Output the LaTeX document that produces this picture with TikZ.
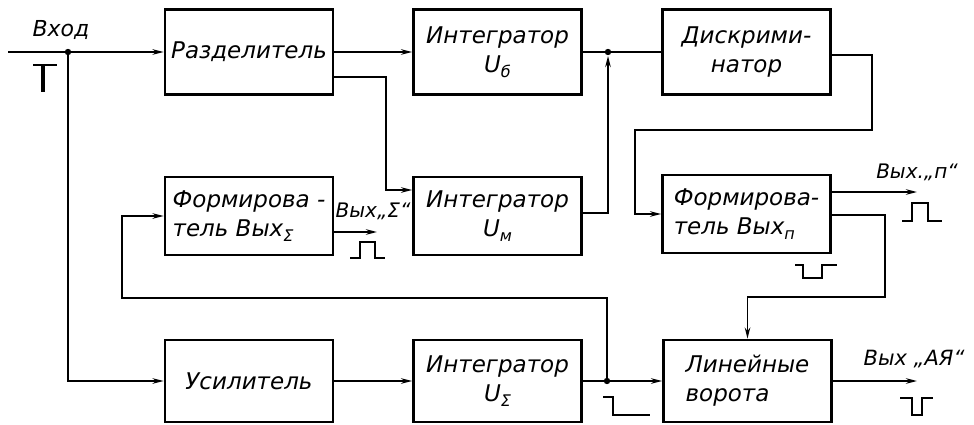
\documentclass[tikz,border=0pt]{standalone}
\usepackage{fontspec}
\setmainfont{DejaVu Sans}[ItalicFont={DejaVu Sans Oblique}]
\usetikzlibrary{arrows.meta}
\newcommand{\lowidx}[1]{\raisebox{-5pt}{\fontsize{16}{16}\selectfont #1}}

\begin{document}
\begin{tikzpicture}[x=1pt, y=-1pt, line width=1.8pt, >={Stealth[length=11pt,width=5.5pt]},
  blk/.style={draw, line width=2.8pt, minimum width=168pt, inner sep=2pt, font=\fontsize{23}{29}\selectfont\itshape},
  lbl/.style={font=\fontsize{20}{22}\selectfont\itshape}]
\useasboundingbox (0,0) rectangle (974,425);
% top row
\node[blk, minimum height=85pt, align=left] (razd) at (249,52) {Разделитель};
\node[blk, minimum height=85pt, align=center] (intb) at (497.5,52) {Интегратор\\U\lowidx{б}};
\node[blk, minimum height=85pt, align=center] (diskr) at (746.5,52) {Дискрими-\\натор};
% middle row
\node[blk, minimum height=78pt, align=left] (formS) at (249,216) {Формирова -\\тель Вых\lowidx{Σ}};
\node[blk, minimum height=78pt, align=center] (intm) at (497.5,216) {Интегратор\\U\lowidx{м}};
\node[blk, minimum height=78pt, align=left] (formn) at (746.5,214) {Формирова-\\тель Вых\lowidx{п}};
% bottom row
\node[blk, minimum height=82pt] (usil) at (249,381) {Усилитель};
\node[blk, minimum height=82pt, align=center] (intS) at (497.5,381) {Интегратор\\U\lowidx{Σ}};
\node[blk, minimum height=82pt, align=left] (vorota) at (747.5,381) {Линейные\\ворота};

\coordinate (in) at (8,52); \coordinate (j1) at (68,52);
\coordinate (j2) at (608,52); \coordinate (j3) at (607,381);
\coordinate (outs) at (377,232); \coordinate (outn) at (917,192); \coordinate (outaa) at (917,381);
\foreach \p in {j1,j2,j3} \fill (\p) circle (3.2pt);

\draw[->] (in) -- (razd); \node[lbl, font=\fontsize{22}{24}\selectfont\itshape] (vhod) at (61,30) {Вход};
\draw[->] (j1) |- (usil);
\draw[->] (razd) -- (intb);
\draw[->] ([yshift=-25pt]razd.east) -| ([xshift=-26pt,yshift=26pt]intm.west) -- ([yshift=26pt]intm.west);
\draw (intb) -- (diskr);
\draw[->, shorten >=4pt] ([yshift=3pt]intm.east) -| (j2);
\draw[->] ([yshift=-3pt]diskr.east) -| (872,130) -| (635,214) -- (formn.west);
\draw[->] ([yshift=22pt]formn.east) -- (outn); \node[lbl] (voutn) at (917,172) {Вых.„п“};
\draw[->] ([yshift=-1pt]formn.east) -| (885,297) -| (vorota.north);
\draw[->] (usil) -- (intS);
\draw[->] (intS) -- (vorota);
\draw[->] (j3) |- (122,298) |- (formS.west);
\draw[->] ([yshift=-16pt]formS.east) -- (outs); \node[lbl] (vouts) at (373,211) {Вых„Σ“};
\draw[->] (vorota) -- (outaa); \node[lbl, font=\fontsize{21}{23}\selectfont\itshape] (vouta) at (914,359) {Вых „АЯ“};

% pulses
\draw[line width=2pt] (33,65) -- (57,65); \fill (40.5,65) rectangle (45,92);
\draw (350,258) -- (360,258) -- (360,242) -- (375,242) -- (375,258) -- (385,258);
\draw (902,221) -- (912,221) -- (912,203) -- (928,203) -- (928,221) -- (942,221);
\draw (795,265) -- (803,265) -- (803,278) -- (822,278) -- (822,265) -- (837,265);
\draw (603,397) -- (613,397) -- (613,415) -- (650,415);
\draw (900,398) -- (912,398) -- (912,415) -- (922,415) -- (922,398) -- (933,398);
\end{tikzpicture}
\end{document}
